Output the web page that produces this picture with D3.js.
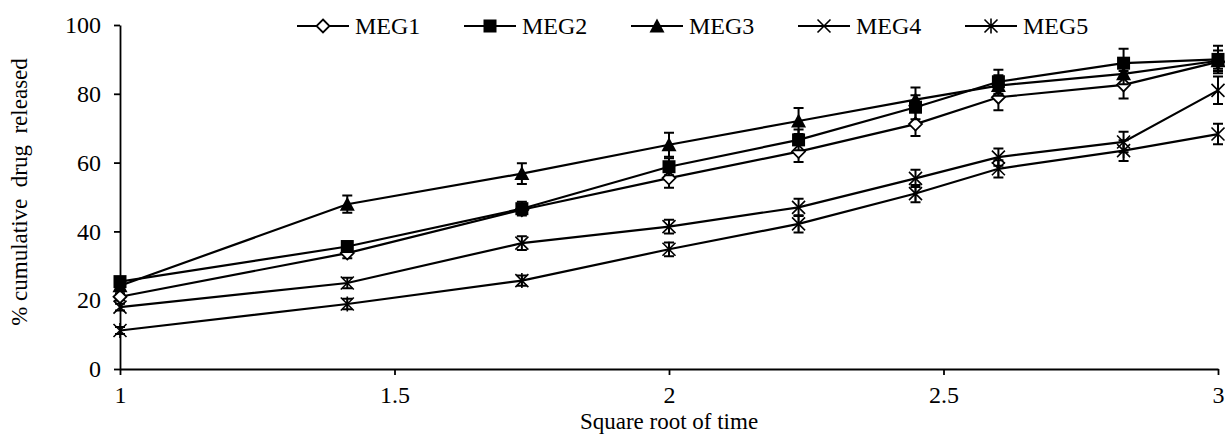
<!DOCTYPE html>
<html>
<head>
<meta charset="utf-8">
<script src="https://cdn.jsdelivr.net/npm/d3@7"></script>
<style>
  body { margin: 0; background: #fff; }
  svg { font-family: "Liberation Serif", "Times New Roman", serif; }
  .axis path, .axis line { stroke: #000; stroke-width: 1.8px; }
  .axis text { fill: #000; }
</style>
</head>
<body>
<svg width="1225" height="438"></svg>
<script>
// square root of time (x positions)
const sqrtTime = [1, 1.414, 1.732, 2, 2.236, 2.449, 2.6, 2.828, 3];

// % cumulative drug released, per formulation
const meg1 = [21.0, 33.7, 46.3, 55.5, 63.2, 71.2, 79.0, 82.6, 89.3];
const meg2 = [25.4, 35.6, 46.6, 58.8, 66.6, 76.1, 83.5, 88.9, 90.0];
const meg3 = [24.2, 47.9, 56.8, 65.2, 72.1, 78.3, 82.4, 85.8, 89.6];
const meg4 = [18.0, 25.0, 36.6, 41.4, 47.0, 55.4, 61.6, 66.0, 81.0];
const meg5 = [11.2, 18.9, 25.7, 34.8, 42.2, 51.0, 58.2, 63.5, 68.3];

// error bars (+/-)
const err1 = [1.0, 1.5, 1.2, 2.8, 3.0, 3.5, 3.8, 4.0, 2.0];
const err2 = [1.0, 1.5, 2.0, 2.5, 3.0, 3.5, 3.5, 4.2, 4.0];
const err3 = [1.0, 2.5, 3.0, 3.5, 3.8, 3.5, 3.0, 3.0, 3.0];
const err4 = [1.0, 1.5, 2.0, 2.0, 2.5, 2.5, 2.5, 3.0, 4.0];
const err5 = [1.0, 1.5, 1.5, 2.0, 2.5, 2.5, 2.5, 3.0, 3.0];

const names = ["MEG1", "MEG2", "MEG3", "MEG4", "MEG5"];
const markers = ["diamond", "square", "triangle", "cross", "star"];

const xTicks = [1, 1.5, 2, 2.5, 3];
const yTicks = [0, 20, 40, 60, 80, 100];

const series = [
  { name: names[0], marker: markers[0], values: meg1, errors: err1 },
  { name: names[1], marker: markers[1], values: meg2, errors: err2 },
  { name: names[2], marker: markers[2], values: meg3, errors: err3 },
  { name: names[3], marker: markers[3], values: meg4, errors: err4 },
  { name: names[4], marker: markers[4], values: meg5, errors: err5 }
];

const serif = '"Liberation Serif", "Times New Roman", serif';

// chart dimensions
const margin = { top: 25, right: 7, bottom: 69, left: 120 };
const width = 1225 - margin.left - margin.right;
const height = 438 - margin.top - margin.bottom;

const x = d3.scaleLinear().domain([1, 3]).range([0, width]);
const y = d3.scaleLinear().domain([0, 100]).range([height, 0]);

const svg = d3.select("svg")
  .append("g")
  .attr("transform", "translate(" + margin.left + "," + margin.top + ")");

// axes
svg.append("g")
  .attr("class", "axis")
  .attr("transform", "translate(0," + height + ")")
  .call(d3.axisBottom(x).tickValues(xTicks).tickSize(6).tickSizeOuter(0).tickPadding(11).tickFormat(d3.format("")))
  .attr("font-family", serif)
  .attr("font-size", 24);

svg.append("g")
  .attr("class", "axis")
  .call(d3.axisLeft(y).tickValues(yTicks).tickSize(6).tickSizeOuter(0).tickPadding(13))
  .attr("font-family", serif)
  .attr("font-size", 24);

// marker drawing
function drawMarker(g, type, cx, cy) {
  const s = 6.5;
  if (type === "diamond") {
    g.append("path")
      .attr("d", `M${cx},${cy - s}L${cx + s},${cy}L${cx},${cy + s}L${cx - s},${cy}Z`)
      .attr("fill", "#fff").attr("stroke", "#000").attr("stroke-width", 1.8);
  } else if (type === "square") {
    g.append("rect")
      .attr("x", cx - s).attr("y", cy - s).attr("width", 2 * s).attr("height", 2 * s)
      .attr("fill", "#000");
  } else if (type === "triangle") {
    g.append("path")
      .attr("d", `M${cx},${cy - s - 1}L${cx + s + 1},${cy + s}L${cx - s - 1},${cy + s}Z`)
      .attr("fill", "#000");
  } else if (type === "cross") {
    g.append("path")
      .attr("d", `M${cx - s},${cy - s}L${cx + s},${cy + s}M${cx - s},${cy + s}L${cx + s},${cy - s}`)
      .attr("stroke", "#000").attr("stroke-width", 1.6).attr("fill", "none");
  } else if (type === "star") {
    g.append("path")
      .attr("d", `M${cx - s},${cy - s}L${cx + s},${cy + s}M${cx - s},${cy + s}L${cx + s},${cy - s}M${cx},${cy - s - 1}L${cx},${cy + s + 1}`)
      .attr("stroke", "#000").attr("stroke-width", 1.6).attr("fill", "none");
  }
}

const line = d3.line()
  .x(d => x(d[0]))
  .y(d => y(d[1]));

// series lines
series.forEach(s => {
  const pts = sqrtTime.map((t, i) => [t, s.values[i]]);
  svg.append("path")
    .datum(pts)
    .attr("fill", "none")
    .attr("stroke", "#000")
    .attr("stroke-width", 2.2)
    .attr("d", line);
});

// error bars and markers
series.forEach(s => {
  const g = svg.append("g");
  sqrtTime.forEach((t, i) => {
    const cx = x(t);
    const hi = y(s.values[i] + s.errors[i]);
    const lo = y(s.values[i] - s.errors[i]);
    g.append("path")
      .attr("d", `M${cx},${hi}L${cx},${lo}M${cx - 5},${hi}L${cx + 5},${hi}M${cx - 5},${lo}L${cx + 5},${lo}`)
      .attr("stroke", "#000")
      .attr("stroke-width", 2)
      .attr("fill", "none");
  });
  sqrtTime.forEach((t, i) => {
    drawMarker(g, s.marker, x(t), y(s.values[i]));
  });
});

// legend
const legend = d3.select("svg").append("g");
series.forEach((s, i) => {
  const lx = 297 + i * 167;
  const ly = 26;
  const item = legend.append("g");
  item.append("line")
    .attr("x1", lx).attr("x2", lx + 52)
    .attr("y1", ly).attr("y2", ly)
    .attr("stroke", "#000").attr("stroke-width", 2.2);
  drawMarker(item, s.marker, lx + 26, ly);
  item.append("text")
    .attr("x", lx + 58)
    .attr("y", ly + 8)
    .attr("font-family", serif)
    .attr("font-size", "24px")
    .text(s.name);
});

// axis titles
d3.select("svg").append("text")
  .attr("x", margin.left + x(2))
  .attr("y", 429)
  .attr("text-anchor", "middle")
  .attr("font-family", serif)
  .attr("font-size", "23px")
  .text("Square root of time");

d3.select("svg").append("text")
  .attr("transform", "rotate(-90)")
  .attr("x", -(margin.top + height / 2) + 5)
  .attr("y", 27)
  .attr("text-anchor", "middle")
  .attr("font-family", serif)
  .attr("font-size", "23px")
  .attr("xml:space", "preserve")
  .text("% cumulative  drug  released");
</script>
</body>
</html>
